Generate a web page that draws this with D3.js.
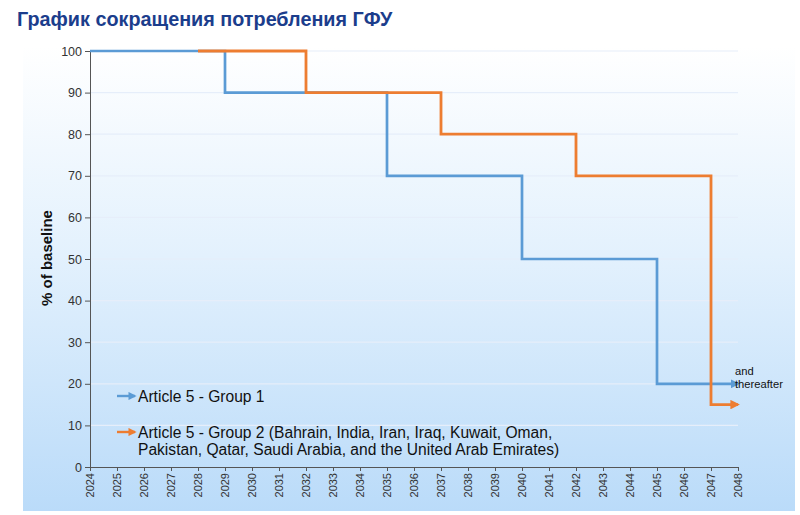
<!DOCTYPE html>
<html><head><meta charset="utf-8">
<script src="https://cdn.jsdelivr.net/npm/d3@7"></script>
<style>html,body{margin:0;padding:0;background:#fff;}svg{display:block;}</style>
</head><body>
<svg id="chart" width="800" height="515"></svg>
<script>
const title = "График сокращения потребления ГФУ";
const yLabel = "% of baseline";
const xTicks = d3.range(2024, 2049);
const yTicks = [0,10,20,30,40,50,60,70,80,90,100];
const group1Years = [2024, 2029, 2035, 2040, 2045, 2048];
const group1Values = [100, 90, 70, 50, 20, 20];
const group2Years = [2028, 2032, 2037, 2042, 2047, 2048];
const group2Values = [100, 90, 80, 70, 15, 15];
const legend1 = ["Article 5 - Group 1"];
const legend2 = ["Article 5 - Group 2 (Bahrain, India, Iran, Iraq, Kuwait, Oman,",
                 "Pakistan, Qatar, Saudi Arabia, and the United Arab Emirates)"];
const note = ["and", "thereafter"];

const svg = d3.select("#chart");
const blue = "#5b9bd5", orange = "#ed7d31";
const defs = svg.append("defs");
const grad = defs.append("linearGradient").attr("id","bg").attr("x1",0).attr("y1",0).attr("x2",0).attr("y2",1);
grad.append("stop").attr("offset","0%").attr("stop-color","#ffffff");
grad.append("stop").attr("offset","45%").attr("stop-color","#e3f1fd");
grad.append("stop").attr("offset","100%").attr("stop-color","#badbf9");
[["arrB",blue],["arrO",orange]].forEach(([id,c])=>{
  defs.append("marker").attr("id",id).attr("viewBox","0 0 10 10").attr("refX",8).attr("refY",5)
    .attr("markerWidth",3.4).attr("markerHeight",3.4).attr("orient","auto").attr("markerUnits","strokeWidth")
    .append("path").attr("d","M0,0 L10,5 L0,10 Z").attr("fill",c);
});

svg.append("rect").attr("x",23).attr("y",46).attr("width",772).attr("height",465).attr("fill","url(#bg)");

svg.append("text").attr("x",17).attr("y",26).text(title)
  .attr("font-family","Liberation Sans, Arial, sans-serif").attr("font-weight","bold")
  .attr("font-size",19.8).attr("fill","#1b3d8c");

const x = d3.scaleLinear().domain([2024,2048]).range([90,738]);
const y = d3.scaleLinear().domain([0,100]).range([467,51]);

// gridlines
svg.append("g").selectAll("line").data(yTicks.filter(d=>d>0)).join("line")
  .attr("x1",x(2024)).attr("x2",x(2048)).attr("y1",d=>y(d)).attr("y2",d=>y(d))
  .attr("stroke","#e6eefa").attr("stroke-width",1.2);

const font = "Liberation Sans, Arial, sans-serif";
const yAxis = svg.append("g").attr("transform",`translate(${x(2024)},0)`)
  .call(d3.axisLeft(y).tickValues(yTicks).tickSize(5).tickPadding(3));
yAxis.selectAll("text").attr("font-family",font).attr("font-size",12.5).attr("fill","#333");
yAxis.selectAll("line,path").attr("stroke","#555");

const xAxis = svg.append("g").attr("transform",`translate(0,${y(0)})`)
  .call(d3.axisBottom(x).tickValues(xTicks).tickFormat(d3.format("d")).tickSize(4).tickSizeOuter(0));
xAxis.selectAll("line,path").attr("stroke","#555");
xAxis.selectAll("text").attr("font-family",font).attr("font-size",11).attr("fill","#333")
  .attr("transform","rotate(-90)").attr("text-anchor","end").attr("dy","0.35em").attr("x",-6).attr("y",0);

svg.append("text").attr("transform","translate(52,258) rotate(-90)").attr("text-anchor","middle")
  .attr("font-family",font).attr("font-size",15).attr("font-weight","bold").attr("fill","#111").text(yLabel);

const line = d3.line().x(d=>x(d[0])).y(d=>y(d[1])).curve(d3.curveStepAfter);
svg.append("path").datum(d3.zip(group1Years, group1Values)).attr("d",line)
  .attr("fill","none").attr("stroke",blue).attr("stroke-width",2.7).attr("marker-end","url(#arrB)");
svg.append("path").datum(d3.zip(group2Years, group2Values)).attr("d",line)
  .attr("fill","none").attr("stroke",orange).attr("stroke-width",2.8).attr("marker-end","url(#arrO)");

const nt = svg.append("text").attr("font-family",font).attr("font-size",11.2).attr("fill","#111");
note.forEach((t,i)=>nt.append("tspan").attr("x",735).attr("y",375+i*13).text(t));

// legend
function legendArrow(yy,c,id){
  svg.append("line").attr("x1",117).attr("x2",135).attr("y1",yy).attr("y2",yy)
    .attr("stroke",c).attr("stroke-width",2.4).attr("marker-end",`url(#${id})`);
}
legendArrow(396,blue,"arrB");
legendArrow(432,orange,"arrO");
const l1 = svg.append("text").attr("font-family",font).attr("font-size",15.6).attr("fill","#111");
legend1.forEach((t,i)=>l1.append("tspan").attr("x",138).attr("y",402+i*17).text(t));
const l2 = svg.append("text").attr("font-family",font).attr("font-size",15.6).attr("fill","#111");
legend2.forEach((t,i)=>l2.append("tspan").attr("x",138).attr("y",438+i*17).text(t));
</script>
</body></html>
